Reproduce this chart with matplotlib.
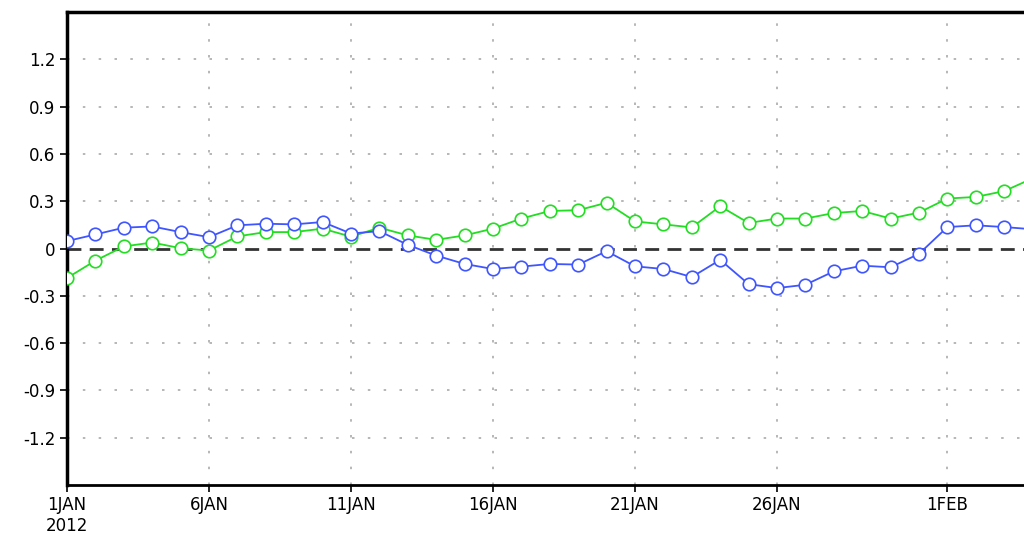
import matplotlib
matplotlib.use("Agg")
import matplotlib.pyplot as plt
import numpy as np

# Daily values, 1 JAN 2012 .. 4 FEB 2012
days = list(range(1, 32)) + [1, 2, 3, 4]
blue = [0.047, 0.089, 0.132, 0.140, 0.104, 0.072, 0.147, 0.157, 0.153, 0.168,
        0.095, 0.110, 0.023, -0.045, -0.098, -0.130, -0.115, -0.098, -0.102, -0.017,
        -0.113, -0.130, -0.181, -0.072, -0.226, -0.251, -0.230, -0.145, -0.109, -0.119,
        -0.034, 0.136, 0.147, 0.136, 0.122]
green = [-0.187, -0.077, 0.013, 0.038, 0.002, -0.013, 0.077, 0.104, 0.104, 0.126,
         0.075, 0.132, 0.083, 0.055, 0.083, 0.126, 0.190, 0.238, 0.243, 0.290,
         0.172, 0.153, 0.134, 0.268, 0.162, 0.190, 0.190, 0.225, 0.238, 0.190,
         0.228, 0.317, 0.327, 0.364, 0.445]
xtick_pos = [0, 5, 10, 15, 20, 25, 31]
xtick_labels = ["1JAN\n2012", "6JAN", "11JAN", "16JAN", "21JAN", "26JAN", "1FEB"]
ytick_vals = [-1.2, -0.9, -0.6, -0.3, 0.0, 0.3, 0.6, 0.9, 1.2]
ytick_labels = ["-1.2", "-0.9", "-0.6", "-0.3", "0", "0.3", "0.6", "0.9", "1.2"]

plt.rcParams['font.family'] = ['Liberation Sans Narrow', 'DejaVu Sans']

fig = plt.figure(figsize=(10.24, 5.42), dpi=100)
ax = fig.add_axes([67/1024, 1-485/542, 1-67/1024, (485-12)/542])

x = np.arange(len(blue))
ax.axhline(0, color='#333333', lw=2, ls=(0, (5, 3)), zorder=2)
ax.plot(x, green, color='#22dd22', lw=1.3, marker='o', ms=9, mfc='white',
        mec='#22dd22', mew=1.2, zorder=3)
ax.plot(x, blue, color='#3f55ff', lw=1.3, marker='o', ms=9, mfc='white',
        mec='#3f55ff', mew=1.2, zorder=4)

ax.set_ylim(-1.5, 1.5)
ax.set_xlim(0, (1024-67)/28.4)
ax.set_yticks(ytick_vals)
ax.set_yticklabels(ytick_labels)
ax.set_xticks(xtick_pos)
ax.set_xticklabels(xtick_labels)

for yv in ytick_vals:
    if yv != 0:
        ax.axhline(yv, color='#aaaaaa', lw=1.2, ls=(0, (1.5, 8)), zorder=1)
for xv in xtick_pos[1:]:
    ax.axvline(xv, color='#aaaaaa', lw=1.2, ls=(0, (1.5, 8)), zorder=1)

ax.spines['right'].set_visible(False)
ax.spines['left'].set_linewidth(2.5)
ax.spines['top'].set_linewidth(2.5)
ax.spines['bottom'].set_linewidth(2.0)
ax.tick_params(axis='both', direction='out', length=5, width=1.2, labelsize=12,
               colors='black')
ax.tick_params(axis='x', pad=3)

fig.savefig('out.png', dpi=100)
